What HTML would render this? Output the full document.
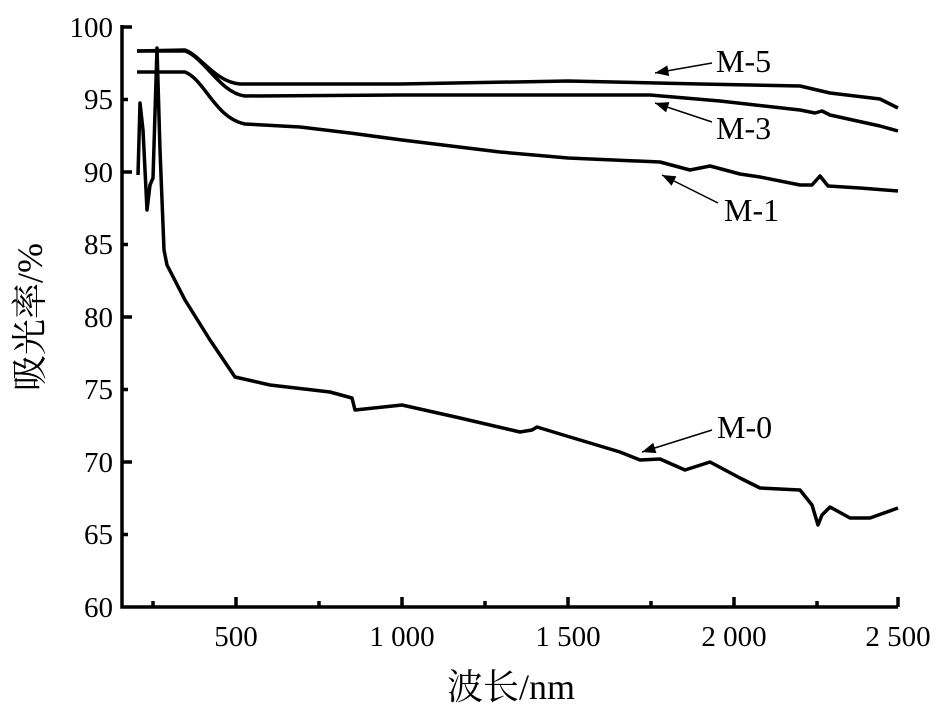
<!DOCTYPE html>
<html><head><meta charset="utf-8"><style>
body{margin:0;background:#fff}
svg text{font-family:"Liberation Serif","Noto Serif CJK SC",serif;fill:#000}
</style></head><body>
<svg width="950" height="709" viewBox="0 0 950 709" xmlns="http://www.w3.org/2000/svg">
<defs><marker id="ar" viewBox="0 0 10 10" refX="10" refY="5" markerWidth="9" markerHeight="9" orient="auto"><path d="M0,1 L10,5 L0,9 z" fill="#000"/></marker></defs>
<g stroke="#000" stroke-width="3.5" fill="none">
<path d="M122,25 V607 H898"/>
<path d="M122,27 h10 M122,99.5 h6 M122,172 h10 M122,244.5 h6 M122,317 h10 M122,389.5 h6 M122,462 h10 M122,534.5 h6"/>
<path d="M153,607 v-6 M236,607 v-10 M319,607 v-6 M402,607 v-10 M485,607 v-6 M568,607 v-10 M651,607 v-6 M734,607 v-10 M817,607 v-6 M898,607 v-10"/>
</g>
<g stroke="#000" stroke-width="3.5" fill="none" stroke-linejoin="round">
<path d="M137,51 L185,50 C200,55 215,82 240,84 L400,84 L568,81 L700,84 L800,86 L830,93 L880,99 L898,108"/>
<path d="M137,51 L185,51 C205,58 220,93 245,96 L400,95 L650,95 L720,101 L800,110 L815,113 L822,111 L830,115 L880,126 L898,131"/>
<path d="M137,72 L185,72 C205,80 215,118 245,124 L300,127 L350,133 L402,140 L500,152 L568,158 L660,162 L690,170 L710,166 L740,174 L760,177 L800,185 L812,185 L820,176 L828,186 L860,188 L898,191"/>
<path d="M138,175 L140,103 L143,130 L147,210 L150,185 L153,178 L157,48 L160,150 L164,250 L167,265 L185,300 L210,340 L235,377 L270,385 L330,392 L352,398 L355,410 L402,405 L460,418 L520,432 L532,430 L537,427 L560,434 L620,452 L640,460 L660,459 L685,470 L710,462 L740,478 L760,488 L800,490 L812,505 L818,525 L822,515 L830,507 L850,518 L870,518 L898,508"/>
</g>
<g stroke="#000" stroke-width="1.5" marker-end="url(#ar)">
<line x1="712" y1="63" x2="655" y2="73"/>
<line x1="712" y1="122" x2="655" y2="103"/>
<line x1="718" y1="203" x2="662" y2="175"/>
<line x1="712" y1="430" x2="642" y2="452"/>
</g>
<g font-size="32">
<text x="716" y="72">M-5</text>
<text x="716" y="139">M-3</text>
<text x="724" y="221">M-1</text>
<text x="717" y="438">M-0</text>
</g>
<g font-size="29" text-anchor="end">
<text x="113" y="37">100</text><text x="113" y="109">95</text><text x="113" y="182">90</text><text x="113" y="254">85</text><text x="113" y="327">80</text><text x="113" y="399">75</text><text x="113" y="472">70</text><text x="113" y="544">65</text><text x="113" y="617">60</text>
</g>
<g font-size="29" text-anchor="middle">
<text x="236" y="646">500</text><text x="402" y="646">1 000</text><text x="568" y="646">1 500</text><text x="734" y="646">2 000</text><text x="898" y="646">2 500</text>
</g>
<text x="511" y="699" font-size="36" text-anchor="middle">波长/nm</text>
<text transform="translate(42,317) rotate(-90)" font-size="36" text-anchor="middle">吸光率/%</text>
</svg>
</body></html>
